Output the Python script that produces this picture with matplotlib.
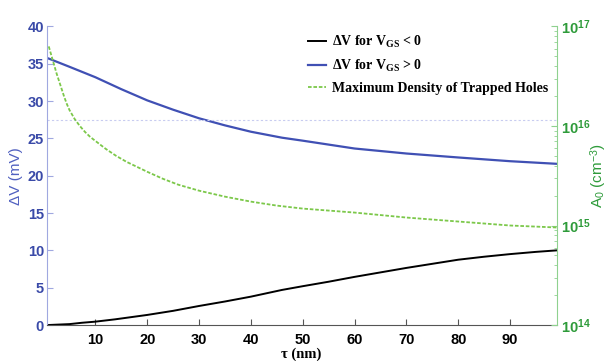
import matplotlib
matplotlib.use('Agg')
import matplotlib.pyplot as plt
from matplotlib.ticker import LogLocator, FuncFormatter, NullFormatter
import numpy as np

plt.rcParams['font.family'] = ['Liberation Sans', 'DejaVu Sans']
plt.rcParams['mathtext.fontset'] = 'custom'
plt.rcParams['mathtext.rm'] = 'Liberation Serif:bold'
plt.rcParams['mathtext.bf'] = 'Liberation Sans:bold'
plt.rcParams['mathtext.sf'] = 'Liberation Sans'
plt.rcParams['mathtext.default'] = 'rm'

tauNeg = [1, 5, 7.4, 10, 13.8, 20, 25, 30, 35, 40, 46, 50, 55, 60, 65, 70, 75, 80, 85, 90, 95, 99]
dvNeg = [0.0, 0.12, 0.3, 0.45, 0.76, 1.35, 1.9, 2.55, 3.15, 3.8, 4.7, 5.2, 5.8, 6.45,
         7.05, 7.65, 8.2, 8.75, 9.15, 9.5, 9.8, 10.0]

tauPos = [1, 5, 10, 15, 20, 25, 30, 35, 40, 46, 50, 60, 70, 80, 90, 99]
dvPos = [35.7, 34.6, 33.2, 31.6, 30.1, 28.85, 27.7, 26.75, 25.9, 25.1, 24.7, 23.65,
         22.98, 22.45, 21.95, 21.6]

tauHoles = [1, 1.5, 2, 2.5, 3, 3.5, 4, 4.5, 5, 6, 7, 8, 9, 10, 12, 14, 16, 18, 20,
            23, 26, 30, 35, 40, 45, 50, 60, 70, 80, 90, 99]
logHoles = [16.80, 16.71, 16.62, 16.53, 16.45, 16.37, 16.29, 16.22, 16.16, 16.07,
            16.00, 15.94, 15.89, 15.85, 15.77, 15.70, 15.64, 15.59, 15.54, 15.47,
            15.41, 15.35, 15.29, 15.24, 15.20, 15.17, 15.13, 15.08, 15.04, 15.00, 14.98]
holes = [10 ** v for v in logHoles]

leftColor = '#3a4aa8'
rightColor = '#2e9b3a'

fig = plt.figure(figsize=(6.11, 3.61), dpi=100)
ax = fig.add_axes([0.0764, 0.0997, 0.8347, 0.8269])
ax2 = ax.twinx()

l1, = ax.plot(tauNeg, dvNeg, color='black', lw=1.4)
l2, = ax.plot(tauPos, dvPos, color='#4050b4', lw=1.6)
ax.axhline(27.5, color='#c8ccf0', lw=0.8, ls=(0, (2, 2)))
l3, = ax2.plot(tauHoles, holes, color='#7cc84a', lw=1.3, ls=(0, (2, 1)))

ax.set_xlim(0.6, 99)
ax.set_ylim(0, 40)
ax2.set_yscale('log')
ax2.set_ylim(1e14, 1e17)

ax.set_xticks(range(10, 100, 10))
ax.set_yticks(range(0, 41, 5))
ax.tick_params(axis='x', direction='in', length=4, color='#555555', labelsize=10.5, pad=6)
ax.tick_params(axis='y', direction='in', length=4, color='#a0a8e0', labelsize=10.5,
               labelcolor=leftColor, pad=2)
for t in ax.get_xticklabels() + ax.get_yticklabels():
    t.set_fontweight('bold')

ax2.yaxis.set_major_locator(LogLocator(base=10, numticks=10))
ax2.yaxis.set_minor_locator(LogLocator(base=10, subs=np.arange(2, 10), numticks=10))
ax2.yaxis.set_major_formatter(FuncFormatter(lambda v, p: r'$\mathbf{10^{%d}}$' % round(np.log10(v))))
ax2.yaxis.set_minor_formatter(NullFormatter())
ax2.tick_params(axis='y', which='major', direction='in', length=4, color='#8fd18f',
                labelsize=10.5, labelcolor=rightColor, pad=3)
ax2.tick_params(axis='y', which='minor', direction='in', length=2, color='#8fd18f')

for a in (ax, ax2):
    a.spines['top'].set_visible(False)
ax.spines['left'].set_color('#a0a8e0')
ax.spines['bottom'].set_color('#555555')
ax2.spines['left'].set_visible(False)
ax2.spines['bottom'].set_visible(False)
ax2.spines['right'].set_color('#8fd18f')
ax.spines['right'].set_visible(False)

ax.set_ylabel('ΔV (mV)', color='#5060c0', fontsize=11)
ax.yaxis.set_label_coords(-0.046, 0.5)
ax2.set_ylabel(r'A$_{\mathsf{0}}$ (cm$^{\mathsf{-3}}$)', color=rightColor, fontsize=11)
ax2.yaxis.set_label_coords(1.062, 0.5)
ax.set_xlabel('τ (nm)', family='Liberation Serif', fontweight='bold', fontsize=10.5, labelpad=0)

leg = ax.legend([l1, l2, l3],
                [r'ΔV for V$_{GS}$ < 0', r'ΔV for V$_{GS}$ > 0', 'Maximum Density of Trapped Holes'],
                loc='upper left', bbox_to_anchor=(308 / 611, 0.905), bbox_transform=fig.transFigure,
                frameon=False, borderpad=0, borderaxespad=0, handlelength=1.3, handletextpad=0.45,
                labelspacing=0.55, prop={'family': 'Liberation Serif', 'weight': 'bold', 'size': 10})

fig.savefig('out.png', dpi=100)
